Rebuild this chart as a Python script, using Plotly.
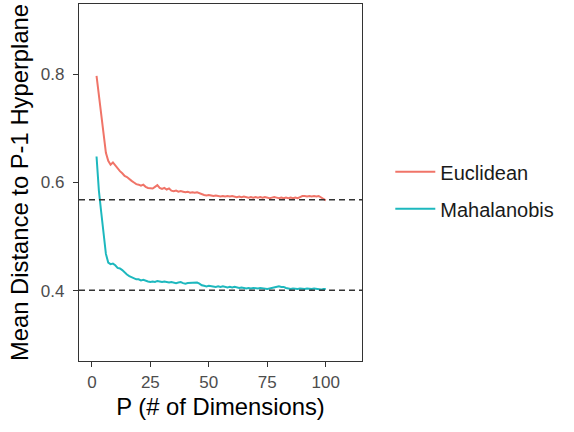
import plotly.graph_objects as go

# ---- data ----
P = list(range(2, 101))
euclidean = [
    0.797, 0.760, 0.725, 0.693, 0.655, 0.640, 0.633, 0.637, 0.631, 0.627,
    0.621, 0.617, 0.612, 0.610, 0.606, 0.603, 0.600, 0.597, 0.596, 0.594,
    0.596, 0.592, 0.590, 0.590, 0.589, 0.592, 0.595, 0.590, 0.588, 0.590,
    0.587, 0.589, 0.585, 0.584, 0.585, 0.583, 0.584, 0.583, 0.582, 0.583,
    0.581, 0.582, 0.581, 0.582, 0.580, 0.578, 0.577, 0.576, 0.577, 0.576,
    0.575, 0.576, 0.575, 0.574, 0.575, 0.574, 0.575, 0.574, 0.575, 0.574,
    0.573, 0.574, 0.573, 0.574, 0.573, 0.572, 0.573, 0.572, 0.573, 0.572,
    0.573, 0.572, 0.573, 0.572, 0.571, 0.572, 0.573, 0.572, 0.571, 0.572,
    0.571, 0.572, 0.571, 0.572, 0.571, 0.572, 0.571, 0.573, 0.575, 0.575,
    0.574, 0.575, 0.574, 0.575, 0.574, 0.575, 0.572, 0.569, 0.567,
]
mahalanobis = [
    0.648, 0.585, 0.545, 0.500, 0.468, 0.452, 0.449, 0.450, 0.447, 0.442,
    0.441, 0.438, 0.433, 0.430, 0.427, 0.425, 0.423, 0.421, 0.421, 0.419,
    0.420, 0.418, 0.417, 0.416, 0.417, 0.416, 0.418, 0.417, 0.416, 0.417,
    0.416, 0.415, 0.416, 0.415, 0.414, 0.415, 0.416, 0.414, 0.413, 0.414,
    0.414, 0.415, 0.414, 0.415, 0.413, 0.410, 0.409, 0.408, 0.409, 0.408,
    0.408, 0.407, 0.408, 0.407, 0.408, 0.407, 0.406, 0.407, 0.406, 0.407,
    0.406, 0.405, 0.406, 0.405, 0.404, 0.405, 0.404, 0.405, 0.404, 0.404,
    0.405, 0.404, 0.404, 0.403, 0.404, 0.405, 0.407, 0.407, 0.408, 0.407,
    0.407, 0.405, 0.404, 0.403, 0.404, 0.403, 0.403, 0.404, 0.403, 0.403,
    0.404, 0.403, 0.403, 0.404, 0.403, 0.403, 0.402, 0.403, 0.403,
]
series_names = ["Euclidean", "Mahalanobis"]
series_colors = ["#F07468", "#1DB8BE"]
hline_values = [0.568, 0.401]
x_ticks = [0, 25, 50, 75, 100]
y_ticks = [0.4, 0.6, 0.8]
x_title = "P (# of Dimensions)"
y_title = "Mean Distance to P-1 Hyperplane"

FONT = "Liberation Sans, Arial, sans-serif"

fig = go.Figure()
for name, vals, col, grp in zip(series_names, [euclidean, mahalanobis], series_colors, ["a", "b"]):
    fig.add_trace(go.Scatter(
        x=P, y=vals, mode="lines", name=name, legendgroup=grp,
        line=dict(color=col, width=2),
    ))

for hv in hline_values:
    fig.add_shape(type="line", xref="paper", yref="y", x0=0, x1=1, y0=hv, y1=hv,
                  line=dict(color="#333333", width=1.5, dash="6px,4px"))

axis_common = dict(
    showline=True, mirror=True, linecolor="#333333", linewidth=1.3,
    ticks="outside", ticklen=5, tickcolor="#333333", tickwidth=1.2,
    showgrid=False, zeroline=False,
    tickfont=dict(family=FONT, size=17, color="#4D4D4D"),
)

fig.update_xaxes(range=[-5.5, 115.5], tickvals=x_ticks, ticktext=[str(v) for v in x_ticks],
                 title=dict(text=x_title, font=dict(family=FONT, size=23.8, color="#000000"), standoff=7),
                 **axis_common)
fig.update_yaxes(range=[0.27, 0.93], tickvals=y_ticks, ticktext=[f"{v:.1f}" for v in y_ticks],
                 ticklabelstandoff=5,
                 title=dict(text=y_title, font=dict(family=FONT, size=23.8, color="#000000"), standoff=5),
                 **axis_common)

fig.update_layout(
    width=574, height=432,
    margin=dict(l=79, r=212, t=4, b=71),
    paper_bgcolor="white", plot_bgcolor="white",
    showlegend=True,
    legend=dict(
        x=1.1, xanchor="left", y=0.478, yanchor="middle",
        font=dict(family=FONT, size=20, color="#1A1A1A"),
        tracegroupgap=8, traceorder="grouped",
        itemwidth=40,
        bgcolor="rgba(0,0,0,0)",
    ),
    font=dict(family=FONT),
)

fig.write_html("out.html")
